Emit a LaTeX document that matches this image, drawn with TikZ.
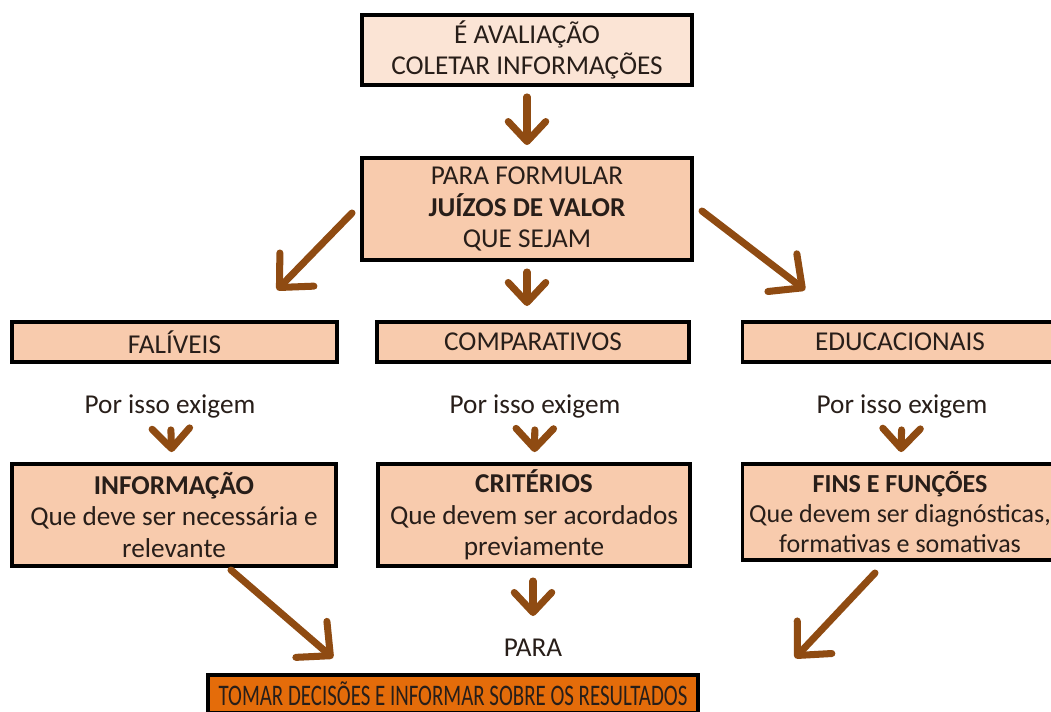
\documentclass[tikz,border=0pt]{standalone}
\usepackage{fontspec}
\setmainfont{Carlito}
\usepackage{tikz}
\usetikzlibrary{arrows.meta}
\usetikzlibrary{positioning}
\usetikzlibrary{calc}

\definecolor{boxlight}{RGB}{251,228,213}
\definecolor{boxpeach}{RGB}{248,203,173}
\definecolor{boxorange}{RGB}{228,108,10}
\definecolor{arrowbrown}{RGB}{143,75,18}
\definecolor{textdark}{RGB}{40,30,25}

\begin{document}
\begin{tikzpicture}
	[every node/.style={text=textdark, font=\fontsize{15.5}{17.8}\selectfont},
	 caixa/.style={draw=black, line width=2.2pt, fill=boxpeach, align=center, inner sep=2pt},
	 seta/.style={draw=arrowbrown, line width=4pt, line cap=round,
	   -{Straight Barb[length=4mm, width=7.5mm, line width=4pt, round]}},
	 setagrande/.style={seta, -{Straight Barb[length=5mm, width=9.5mm, line width=4pt, round]}}]
	\useasboundingbox (0,0) rectangle (21.02,14.22);
	% caixas de cima
	\node[caixa, fill=boxlight, minimum width=6.6cm, minimum height=1.4cm] (avaliacao) at (10.54,13.22) {É AVALIAÇÃO\\COLETAR INFORMAÇÕES};
	\node[caixa, minimum width=6.6cm, minimum height=2.04cm] (juizos) at (10.54,10.04) {PARA FORMULAR\\\textbf{JUÍZOS DE VALOR}\\QUE SEJAM};
	% os tres juizos
	\node[caixa, minimum width=6.5cm, minimum height=0.8cm] (falivel) at (3.49,7.38) {FALÍVEIS};
	\node[caixa, minimum width=6.24cm, minimum height=0.8cm] (compar) at (10.66,7.38) {COMPARATIVOS};
	\node[caixa, minimum width=6.3cm, minimum height=0.8cm] (educ) at (18.0,7.38) {EDUCACIONAIS};
	\node (porA) at (3.4,6.1) {Por isso exigem};
	\node (porB) at (10.7,6.1) {Por isso exigem};
	\node (porC) at (18.04,6.1) {Por isso exigem};
	% exigencias
	\node[caixa, minimum width=6.48cm, minimum height=2.04cm] (informacao) at (3.48,3.92) {\textbf{INFORMAÇÃO}\\Que deve ser necessária e\\relevante};
	\node[caixa, minimum width=6.24cm, minimum height=2.04cm] (criterios) at (10.68,3.92) {\textbf{CRITÉRIOS}\\Que devem ser acordados\\previamente};
	\node[caixa, minimum width=6.3cm, minimum height=1.92cm, font=\fontsize{14.8}{17.2}\selectfont] (fins) at (18.0,3.98) {\textbf{FINS E FUNÇÕES}\\Que devem ser diagnósticas,\\formativas e somativas};
	\node (para) at (10.66,1.26) {PARA};
	\node[caixa, fill=boxorange, minimum width=9.8cm, minimum height=0.76cm, anchor=north, font=\fontsize{17}{19}\selectfont] (decisoes) at (9.06,0.76) {\scalebox{0.7}[1]{TOMAR DECISÕES E INFORMAR SOBRE OS RESULTADOS}};
	% pontas livres das setas
	\coordinate (jl0) at (7.04,9.96);
	\coordinate (jl1) at (5.54,8.42);
	\coordinate (jr0) at (14.04,10.0);
	\coordinate (jr1) at (16.1,8.42);
	\coordinate (jc0) at (10.54,8.78);
	\coordinate (jc1) at (10.54,8.1);
	\coordinate (il0) at (4.62,2.82);
	\coordinate (il1) at (6.66,1.06);
	\coordinate (fr0) at (17.5,2.76);
	\coordinate (fr1) at (15.9,1.06);
	\coordinate (cc0) at (10.66,2.6);
	\coordinate (cc1) at (10.66,1.9);
	% setas
	\draw[seta, shorten <=0.2cm, shorten >=0.22cm] (avaliacao) -- (juizos);
	\draw[setagrande] (jl0) -- (jl1);
	\draw[setagrande] (jr0) -- (jr1);
	\draw[seta] (jc0) -- (jc1);
	\draw[seta, shorten <=0.12cm, shorten >=0.2cm] (porA) -- (informacao);
	\draw[seta, shorten <=0.12cm, shorten >=0.2cm] (porB) -- (criterios);
	\draw[seta, shorten <=0.12cm, shorten >=0.2cm] (porC) -- (fins);
	\draw[setagrande] (il0) -- (il1);
	\draw[setagrande] (fr0) -- (fr1);
	\draw[seta] (cc0) -- (cc1);
\end{tikzpicture}
\end{document}
